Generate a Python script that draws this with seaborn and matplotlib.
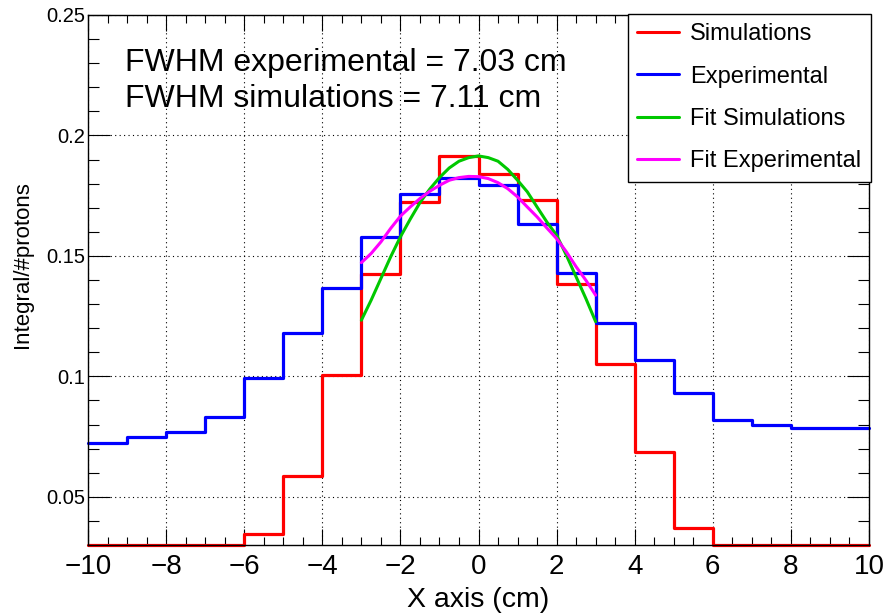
import numpy as np
import pandas as pd
import matplotlib
matplotlib.use("Agg")
import matplotlib.pyplot as plt
from matplotlib.ticker import MultipleLocator, FuncFormatter
from matplotlib.lines import Line2D
import seaborn as sns

# bin centers of both histograms (1 cm bins from -10 to 10)
bin_centers = np.arange(-9.5, 10, 1)

# values (bins below the frame minimum sit on the frame)
sim_values = [0.030, 0.030, 0.030, 0.030, 0.0346, 0.0587, 0.1005, 0.1424, 0.1724, 0.1914,
              0.1838, 0.1734, 0.1383, 0.1053, 0.0686, 0.0370, 0.030, 0.030, 0.030, 0.030]
exp_values = [0.0722, 0.0750, 0.0768, 0.0833, 0.0992, 0.1181, 0.1365, 0.1579, 0.1757, 0.1825,
              0.1793, 0.1631, 0.1428, 0.1221, 0.1066, 0.0930, 0.0819, 0.0798, 0.0786, 0.0786]

# fit curves, every 0.25 cm
fit_x = [-3, -2.75, -2.5, -2.25, -2, -1.75, -1.5, -1.25, -1, -0.75, -0.5, -0.25, 0,
         0.25, 0.5, 0.75, 1, 1.25, 1.5, 1.75, 2, 2.25, 2.5, 2.75, 3]
fit_sim = [0.1233, 0.1316, 0.1406, 0.1496, 0.1579, 0.1652, 0.1721, 0.1777, 0.1825,
           0.1865, 0.1893, 0.1908, 0.1915, 0.1908, 0.1893, 0.1859, 0.1814, 0.1766,
           0.1703, 0.1641, 0.1586, 0.1503, 0.1413, 0.1323, 0.1227]
fit_exp = [0.1472, 0.1510, 0.1558, 0.1614, 0.1665, 0.1703, 0.1738, 0.1768, 0.1793,
           0.1814, 0.1825, 0.1830, 0.1829, 0.1821, 0.1804, 0.1779, 0.1745, 0.1703,
           0.1662, 0.1616, 0.1572, 0.1517, 0.1455, 0.1399, 0.1337]

labels = ["Simulations", "Experimental", "Fit Simulations", "Fit Experimental"]
colors = ["#ff0000", "#0000ff", "#00c800", "#ff00ff"]

sns.set_style("white")
plt.rcParams["font.family"] = ["Liberation Sans", "DejaVu Sans"]
plt.rcParams["text.color"] = "black"
plt.rcParams["axes.labelcolor"] = "black"
plt.rcParams["xtick.color"] = "black"
plt.rcParams["ytick.color"] = "black"

fig = plt.figure(figsize=(8.9, 6.13), dpi=100)
ax = fig.add_axes([88 / 890, 1 - 545 / 613, 781 / 890, 530 / 613])

hist_df = pd.DataFrame({"x": bin_centers, "sim": sim_values, "exp": exp_values})
sns.histplot(data=hist_df, x="x", weights="sim", binwidth=1, binrange=(-10, 10),
             element="step", fill=False, color=colors[0], linewidth=2.3,
             clip_on=False, ax=ax)
sns.histplot(data=hist_df, x="x", weights="exp", binwidth=1, binrange=(-10, 10),
             element="step", fill=False, color=colors[1], linewidth=2.3,
             clip_on=False, ax=ax)

fit_df = pd.DataFrame({"x": fit_x, "sim": fit_sim, "exp": fit_exp})
sns.lineplot(data=fit_df, x="x", y="sim", color=colors[2], linewidth=2.2,
             estimator=None, ax=ax)
sns.lineplot(data=fit_df, x="x", y="exp", color=colors[3], linewidth=2.2,
             estimator=None, ax=ax)

ax.set_xlim(-10, 10)
ax.set_ylim(0.03, 0.25)

ax.xaxis.set_major_locator(MultipleLocator(2))
ax.xaxis.set_minor_locator(MultipleLocator(0.5))
ax.yaxis.set_major_locator(MultipleLocator(0.05))
ax.yaxis.set_minor_locator(MultipleLocator(0.01))
ax.yaxis.set_major_formatter(FuncFormatter(lambda v, p: "%g" % round(v, 3)))

ax.tick_params(axis="x", which="major", direction="in", length=11.5, width=0.8,
               top=True, bottom=True, labelsize=20, pad=6.5, color="black")
ax.tick_params(axis="x", which="minor", direction="in", length=5.8, width=0.8,
               top=True, bottom=True, color="black")
ax.tick_params(axis="y", which="major", direction="in", length=16, width=0.8,
               left=True, right=True, labelsize=14.5, pad=2, color="black")
ax.tick_params(axis="y", which="minor", direction="in", length=8, width=0.8,
               left=True, right=True, color="black")

ax.grid(which="major", color="black", linestyle=(0, (1, 3)), linewidth=0.8)
ax.set_axisbelow(True)
for s in ax.spines.values():
    s.set_color("black")
    s.set_linewidth(1.0)

ax.set_xlabel("X axis (cm)", fontsize=20.5, labelpad=5)
ax.set_ylabel("Integral/#protons", fontsize=16)
ax.yaxis.set_label_coords(-0.07, 0.53)

ax.text(0.0474, 0.895, "FWHM experimental = 7.03 cm", transform=ax.transAxes,
        fontsize=23, va="baseline", ha="left")
ax.text(0.0474, 0.827, "FWHM simulations = 7.11 cm", transform=ax.transAxes,
        fontsize=23, va="baseline", ha="left")

handles = [Line2D([], [], color=c, linewidth=2.2) for c in colors]
leg = ax.legend(handles, labels, loc="upper right", bbox_to_anchor=(1.0025, 1.002),
                fontsize=17, frameon=True, fancybox=False, framealpha=1,
                edgecolor="black", borderaxespad=0, borderpad=0.4,
                handlelength=1.75, handletextpad=0.5, labelspacing=0.86)
leg.get_frame().set_linewidth(1.0)

fig.savefig("out.png", dpi=100)
